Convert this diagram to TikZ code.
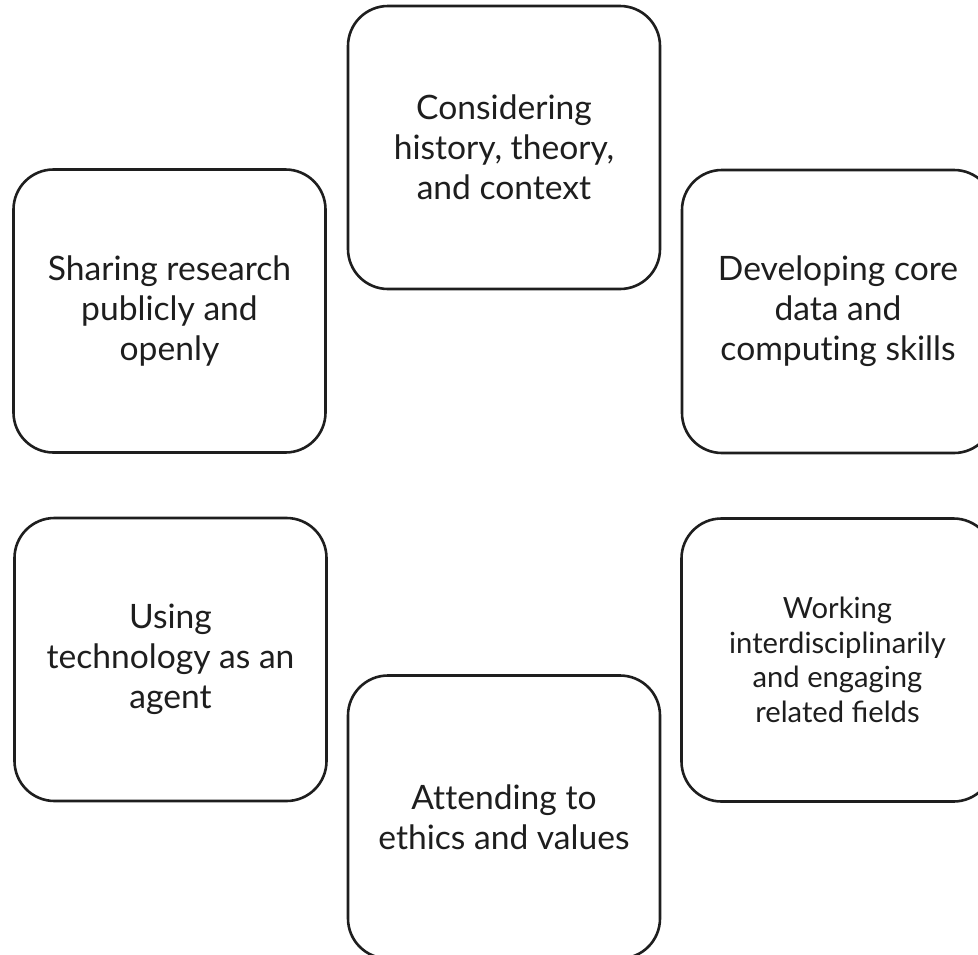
\documentclass[tikz,border=0pt]{standalone}
\usepackage{fontspec}
\setmainfont{Lato}
\definecolor{ink}{HTML}{1E1E1E}
\begin{document}
\begin{tikzpicture}[x=1pt,y=1pt,
  card/.style={draw=ink, line width=2.6pt, rounded corners=40pt, fill=white,
    minimum width=312pt, minimum height=283pt, align=center, text=ink,
    font=\fontsize{33.6}{40}\selectfont, inner sep=0pt},
  smallcard/.style={card, font=\fontsize{29.2}{34.5}\selectfont}]
  \useasboundingbox (0,0) rectangle (978,-954);
  \clip (0,0) rectangle (978,-954);
  \node[card] (history) at (504,-147.5) {Considering\\history, theory,\\and context};
  \node[card] (sharing) at (169.5,-311) {Sharing research\\publicly and\\openly};
  \node[card] (skills) at (838,-311.5) {Developing core\\data and\\comput\kern0pt ing skills};
  \node[card] (agent) at (170.5,-659.5) {Using\\technology as an\\agent};
  \node[smallcard] (fields) at (837.5,-660) {Working\\interdisciplinarily\\and engaging\\related fields};
  \node[card] (ethics) at (504,-817) {At\kern0pt t\kern0pt ending to\\ethics and values};
\end{tikzpicture}
\end{document}
